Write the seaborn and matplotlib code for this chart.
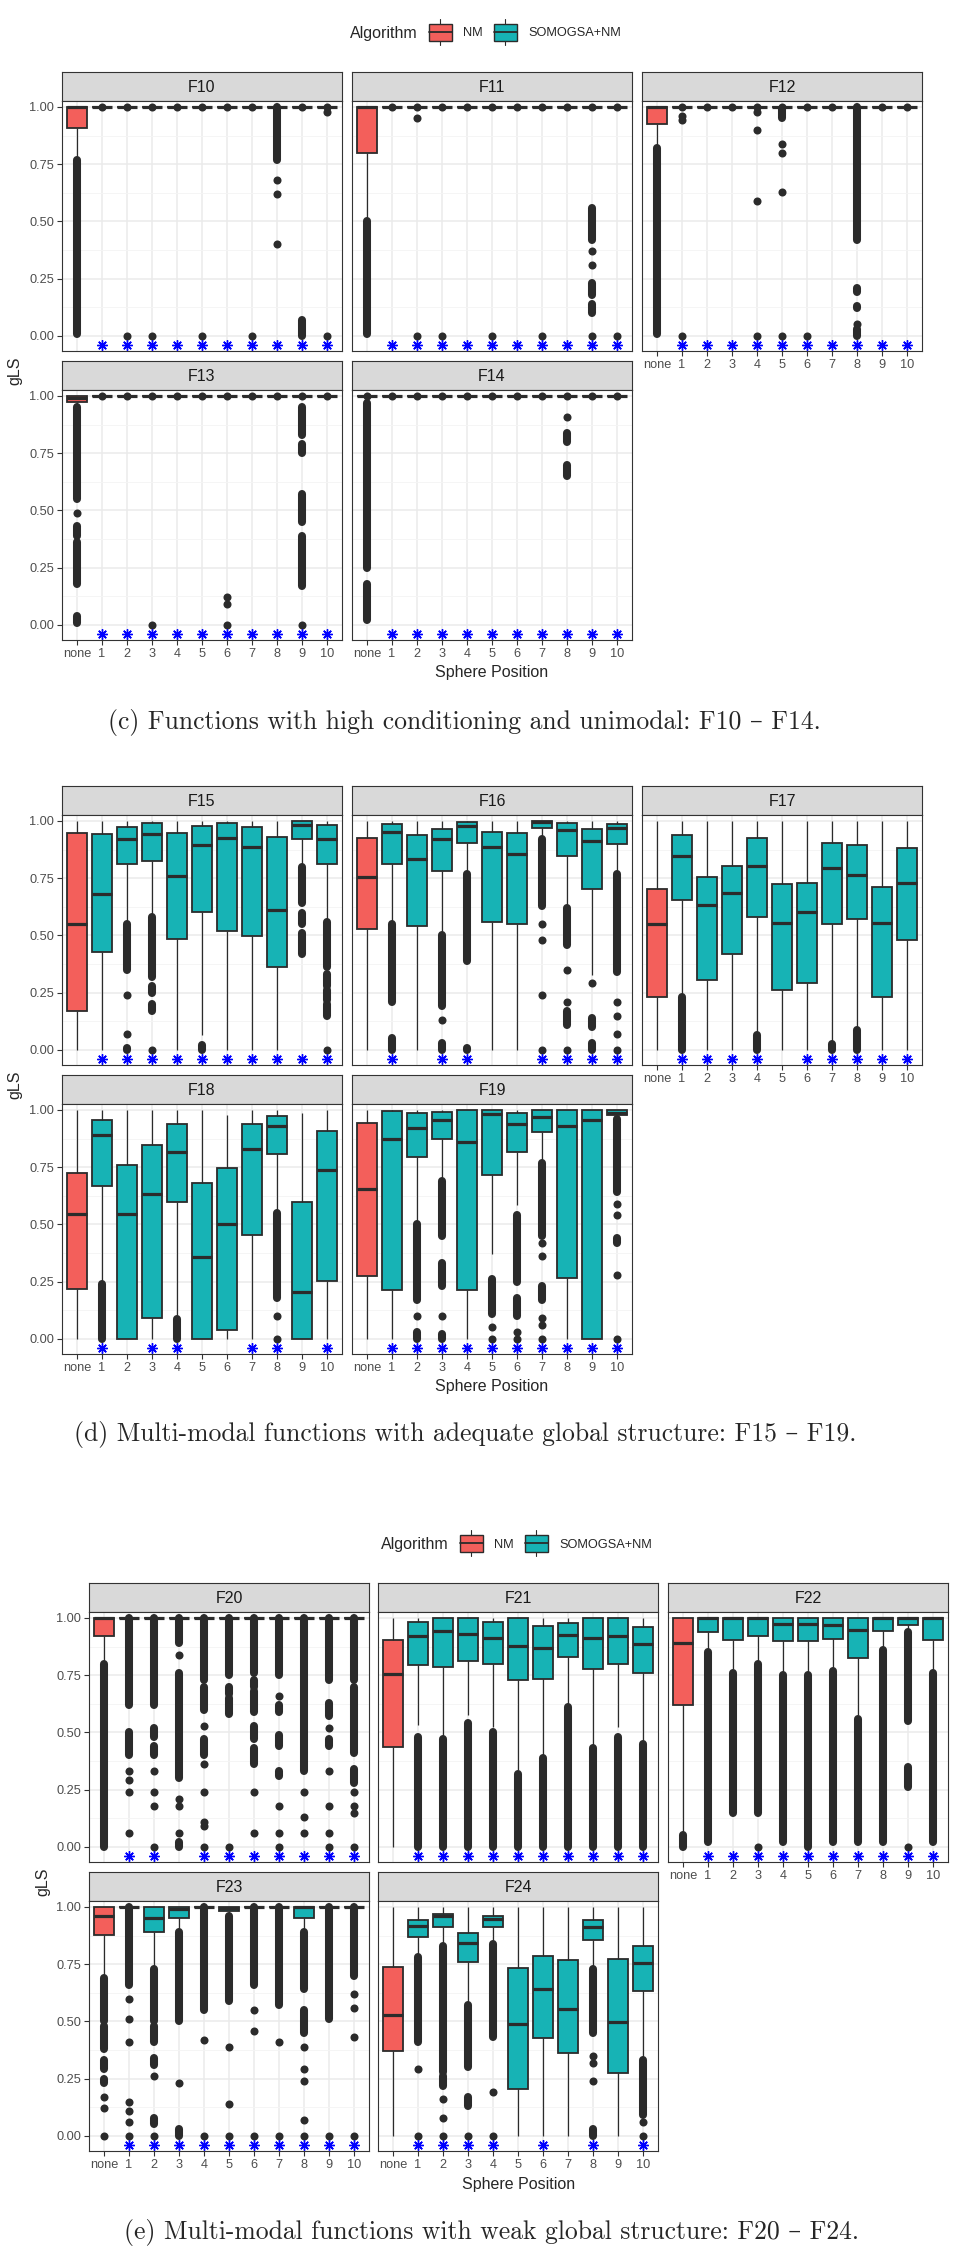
import matplotlib
matplotlib.use("Agg")
import matplotlib.pyplot as plt
from matplotlib.patches import Rectangle
import numpy as np
import pandas as pd
import seaborn as sns

# ---------------------------------------------------------------- data
POSITIONS = ["none", "1", "2", "3", "4", "5", "6", "7", "8", "9", "10"]
ALGORITHMS = ["NM", "SOMOGSA+NM"]
ALL = ["1", "2", "3", "4", "5", "6", "7", "8", "9", "10"]
FLAT = (1.0, 1.0, 1.0, 1.0, 1.0)

# box stats per position (whisker low, q1, median, q3, whisker high)
# outliers: single value = one dot, (lo, hi) = stacked run of dots
F10_stats = [(0.78, 0.908, 1.0, 1.0, 1.0)] + [FLAT] * 10
F10_out = {"none": [(0.01, 0.77)], "1": [1.0], "2": [1.0, 0.0], "3": [1.0, 0.0],
           "4": [1.0], "5": [1.0, 0.0], "6": [1.0], "7": [1.0, 0.0],
           "8": [(0.77, 1.0), 0.68, 0.62, 0.40], "9": [1.0, (0.0, 0.07)],
           "10": [1.0, 0.98, 0.0]}
F10_stars = ALL

F11_stats = [(0.51, 0.80, 1.0, 1.0, 1.0)] + [FLAT] * 10
F11_out = {"none": [(0.01, 0.50)], "1": [1.0], "2": [1.0, 0.95, 0.0], "3": [1.0, 0.0],
           "4": [1.0], "5": [1.0, 0.0], "6": [1.0], "7": [1.0, 0.0], "8": [1.0],
           "9": [1.0, (0.42, 0.56), 0.37, 0.31, (0.18, 0.23), (0.10, 0.14), 0.0],
           "10": [1.0, 0.0]}
F11_stars = ALL

F12_stats = [(0.83, 0.924, 1.0, 1.0, 1.0)] + [FLAT] * 10
F12_out = {"none": [(0.01, 0.82)], "1": [1.0, 0.96, 0.945, 0.0], "2": [1.0], "3": [1.0],
           "4": [1.0, 0.98, 0.90, 0.59, 0.0], "5": [1.0, (0.95, 0.99), 0.84, 0.80, 0.63, 0.0],
           "6": [1.0, 0.0], "7": [1.0],
           "8": [(0.42, 1.0), (0.19, 0.21), (0.12, 0.13), 0.05, (0.0, 0.03)],
           "9": [1.0], "10": [1.0]}
F12_stars = ALL

F13_stats = [(0.94, 0.975, 0.99, 1.0, 1.0)] + [FLAT] * 10
F13_out = {"none": [(0.55, 0.95), 0.49, (0.39, 0.43), (0.18, 0.36), (0.01, 0.04)],
           "1": [1.0], "2": [1.0], "3": [1.0, 0.0], "4": [1.0], "5": [1.0],
           "6": [1.0, 0.12, 0.09, 0.0], "7": [1.0], "8": [1.0],
           "9": [1.0, (0.83, 0.95), (0.75, 0.79), (0.45, 0.57), (0.17, 0.39), 0.0],
           "10": [1.0]}
F13_stars = ALL

F14_stats = [FLAT] * 11
F14_out = {"none": [1.0, (0.25, 0.97), (0.02, 0.18)], "1": [1.0], "2": [1.0], "3": [1.0],
           "4": [1.0], "5": [1.0], "6": [1.0], "7": [1.0],
           "8": [1.0, 0.91, (0.80, 0.84), (0.65, 0.70)], "9": [1.0], "10": [1.0]}
F14_stars = ALL

F15_stats = [(0.0, 0.172, 0.55, 0.946, 1.0), (0.0, 0.428, 0.681, 0.942, 1.0),
             (0.553, 0.811, 0.921, 0.975, 1.0), (0.59, 0.827, 0.942, 0.99, 1.0),
             (0.0, 0.483, 0.76, 0.946, 1.0), (0.065, 0.604, 0.894, 0.978, 1.0),
             (0.0, 0.52, 0.927, 0.993, 1.0), (0.0, 0.499, 0.885, 0.975, 1.0),
             (0.0, 0.36, 0.611, 0.932, 1.0), (0.812, 0.92, 0.983, 1.0, 1.0),
             (0.568, 0.812, 0.921, 0.983, 1.0)]
F15_out = {"2": [(0.35, 0.55), 0.24, 0.07, (0.0, 0.01)],
           "3": [(0.32, 0.58), (0.25, 0.28), (0.17, 0.20), 0.0],
           "5": [(0.0, 0.02)],
           "9": [(0.64, 0.80), (0.55, 0.60), (0.42, 0.51)],
           "10": [(0.36, 0.56), (0.28, 0.33), (0.22, 0.26), (0.15, 0.20), 0.0]}
F15_stars = ALL

F16_stats = [(0.0, 0.527, 0.757, 0.927, 1.0), (0.553, 0.812, 0.951, 0.987, 1.0),
             (0.0, 0.539, 0.834, 0.939, 1.0), (0.51, 0.782, 0.921, 0.964, 1.0),
             (0.771, 0.903, 0.978, 0.997, 1.0), (0.0, 0.56, 0.888, 0.953, 1.0),
             (0.0, 0.55, 0.854, 0.946, 1.0), (0.925, 0.968, 0.997, 1.0, 1.0),
             (0.633, 0.849, 0.961, 0.993, 1.0), (0.328, 0.702, 0.911, 0.965, 1.0),
             (0.774, 0.898, 0.968, 0.987, 1.0)]
F16_out = {"1": [(0.21, 0.55), (0.0, 0.05)],
           "3": [(0.19, 0.50), 0.13, (0.0, 0.03)],
           "4": [(0.39, 0.77), (0.0, 0.01)],
           "7": [(0.63, 0.92), 0.55, 0.48, 0.24, 0.0],
           "8": [(0.46, 0.62), 0.35, 0.21, (0.11, 0.17), 0.0],
           "9": [0.29, (0.10, 0.14), (0.0, 0.03)],
           "10": [(0.34, 0.77), 0.21, 0.15, 0.07, 0.0]}
F16_stars = ["1", "3", "4", "7", "8", "9", "10"]

F17_stats = [(0.0, 0.233, 0.55, 0.702, 1.0), (0.24, 0.655, 0.849, 0.939, 1.0),
             (0.0, 0.306, 0.633, 0.757, 1.0), (0.0, 0.419, 0.684, 0.805, 1.0),
             (0.073, 0.582, 0.803, 0.924, 1.0), (0.0, 0.262, 0.556, 0.724, 1.0),
             (0.0, 0.291, 0.601, 0.731, 1.0), (0.03, 0.552, 0.795, 0.902, 1.0),
             (0.09, 0.571, 0.764, 0.895, 1.0), (0.0, 0.233, 0.553, 0.713, 1.0),
             (0.0, 0.48, 0.728, 0.884, 1.0)]
F17_out = {"1": [(0.0, 0.23)], "4": [(0.0, 0.065)], "7": [(0.0, 0.025)], "8": [(0.0, 0.085)]}
F17_stars = ["1", "2", "3", "4", "6", "7", "8", "9", "10"]

F18_stats = [(0.0, 0.219, 0.546, 0.723, 1.0), (0.244, 0.67, 0.891, 0.955, 1.0),
             (0.0, 0.0, 0.546, 0.759, 1.0), (0.0, 0.091, 0.634, 0.845, 1.0),
             (0.09, 0.599, 0.818, 0.937, 1.0), (0.0, 0.0, 0.358, 0.679, 1.0),
             (0.0, 0.039, 0.502, 0.745, 0.978), (0.0, 0.453, 0.831, 0.937, 1.0),
             (0.558, 0.809, 0.93, 0.974, 1.0), (0.0, 0.0, 0.204, 0.597, 0.988),
             (0.0, 0.251, 0.736, 0.908, 1.0)]
F18_out = {"1": [(0.0, 0.24)], "4": [(0.0, 0.085)], "8": [(0.18, 0.55), 0.10, 0.0]}
F18_stars = ["1", "3", "4", "7", "8", "10"]

F19_stats = [(0.0, 0.273, 0.653, 0.945, 1.0), (0.0, 0.215, 0.874, 0.996, 1.0),
             (0.507, 0.794, 0.923, 0.988, 1.0), (0.696, 0.872, 0.955, 0.993, 1.0),
             (0.0, 0.212, 0.86, 1.0, 1.0), (0.371, 0.714, 0.984, 1.0, 1.0),
             (0.587, 0.818, 0.937, 0.988, 1.0), (0.769, 0.904, 0.971, 1.0, 1.0),
             (0.0, 0.266, 0.93, 1.0, 1.0), (0.0, 0.0, 0.955, 1.0, 1.0),
             (0.96, 0.978, 0.988, 1.0, 1.0)]
F19_out = {"2": [(0.17, 0.50), 0.10, (0.0, 0.03)],
           "3": [(0.45, 0.69), (0.23, 0.33), 0.10, (0.0, 0.02)],
           "5": [(0.11, 0.26), 0.05, 0.0],
           "6": [(0.25, 0.54), (0.10, 0.18), 0.03, 0.0],
           "7": [(0.45, 0.77), 0.42, 0.36, (0.17, 0.23), 0.09, 0.06, 0.0],
           "10": [(0.64, 0.96), 0.59, 0.54, (0.42, 0.44), 0.28, 0.0]}
F19_stars = ALL

F20_stats = [(0.807, 0.919, 1.0, 1.0, 1.0)] + [FLAT] * 10
F20_out = {"none": [(0.0, 0.80)],
           "1": [(0.62, 1.0), (0.40, 0.50), 0.33, 0.29, 0.24, 0.06],
           "2": [(0.62, 1.0), (0.48, 0.52), (0.40, 0.44), 0.33, 0.24, 0.18, 0.0],
           "3": [(0.89, 1.0), 0.84, (0.30, 0.76), 0.21, 0.18, 0.06, (0.0, 0.02)],
           "4": [(0.73, 1.0), (0.60, 0.70), 0.53, (0.40, 0.47), 0.36, 0.24, 0.11, 0.09, 0.0],
           "5": [(0.75, 1.0), (0.67, 0.70), (0.58, 0.65), 0.0],
           "6": [(0.76, 1.0), (0.70, 0.73), (0.59, 0.68), (0.47, 0.53), (0.36, 0.43), 0.24, 0.06],
           "7": [(0.75, 1.0), 0.66, (0.59, 0.62), (0.44, 0.49), (0.31, 0.33), 0.18, 0.06, 0.0],
           "8": [(0.33, 1.0), 0.24, 0.13, 0.06],
           "9": [(0.73, 1.0), (0.57, 0.63), 0.52, (0.44, 0.47), 0.33, 0.18, 0.06, 0.0],
           "10": [(0.73, 1.0), (0.41, 0.70), (0.28, 0.34), 0.24, 0.18, 0.15, 0.0]}
F20_stars = ["1", "2", "4", "5", "6", "7", "8", "9", "10"]

F21_stats = [(0.0, 0.436, 0.756, 0.904, 1.0), (0.531, 0.795, 0.919, 0.984, 1.0),
             (0.48, 0.785, 0.942, 1.0, 1.0), (0.574, 0.814, 0.93, 1.0, 1.0),
             (0.525, 0.797, 0.911, 0.981, 1.0), (0.334, 0.73, 0.879, 1.0, 1.0),
             (0.403, 0.734, 0.868, 0.964, 1.0), (0.625, 0.831, 0.926, 0.977, 1.0),
             (0.44, 0.775, 0.911, 1.0, 1.0), (0.523, 0.797, 0.919, 1.0, 1.0),
             (0.46, 0.759, 0.886, 0.959, 1.0)]
F21_out = {"1": [(0.0, 0.48)], "2": [(0.0, 0.47)], "3": [(0.0, 0.54)], "4": [(0.0, 0.50)],
           "5": [(0.0, 0.32)], "6": [(0.0, 0.39)], "7": [(0.0, 0.61)], "8": [(0.0, 0.43)],
           "9": [(0.0, 0.48)], "10": [(0.0, 0.45)]}
F21_stars = ALL

F22_stats = [(0.065, 0.621, 0.891, 1.0, 1.0), (0.865, 0.94, 1.0, 1.0, 1.0),
             (0.778, 0.904, 1.0, 1.0, 1.0), (0.81, 0.919, 1.0, 1.0, 1.0),
             (0.763, 0.901, 0.974, 1.0, 1.0), (0.763, 0.901, 0.974, 1.0, 1.0),
             (0.78, 0.908, 0.969, 1.0, 1.0), (0.574, 0.826, 0.948, 1.0, 1.0),
             (0.872, 0.943, 1.0, 1.0, 1.0), (0.945, 0.971, 1.0, 1.0, 1.0),
             (0.77, 0.904, 1.0, 1.0, 1.0)]
F22_out = {"none": [(0.0, 0.05)], "1": [(0.02, 0.85)], "2": [(0.15, 0.76)],
           "3": [(0.15, 0.80), 0.0], "4": [(0.02, 0.75)], "5": [(0.0, 0.75)],
           "6": [(0.02, 0.77)], "7": [(0.02, 0.56)], "8": [(0.02, 0.86)],
           "9": [(0.55, 0.94), (0.26, 0.35), 0.0], "10": [(0.02, 0.76)]}
F22_stars = ALL

F23_stats = [(0.695, 0.876, 0.959, 1.0, 1.0), FLAT,
             (0.739, 0.89, 0.952, 1.0, 1.0), (0.893, 0.952, 0.99, 1.0, 1.0),
             FLAT, (0.96, 0.983, 0.995, 1.0, 1.0), FLAT, FLAT,
             (0.893, 0.952, 1.0, 1.0, 1.0), FLAT, FLAT]
F23_out = {"none": [(0.50, 0.69), (0.38, 0.48), (0.29, 0.33), (0.23, 0.25), 0.17, 0.12, 0.0],
           "1": [(0.66, 1.0), 0.60, 0.51, 0.41, 0.15, 0.11, 0.06, 0.0],
           "2": [(0.50, 0.73), (0.41, 0.48), (0.31, 0.34), 0.26, (0.05, 0.08), 0.0],
           "3": [(0.50, 0.89), 0.23, (0.0, 0.03)],
           "4": [(0.55, 1.0), 0.42, 0.0],
           "5": [(0.59, 0.96), 0.39, 0.14, 0.0],
           "6": [(0.66, 1.0), 0.55, 0.46, 0.0],
           "7": [(0.57, 1.0), 0.41, 0.0],
           "8": [(0.64, 0.89), (0.45, 0.55), 0.39, 0.29, 0.24, 0.07, 0.0],
           "9": [(0.51, 1.0), 0.0],
           "10": [(0.70, 1.0), 0.62, 0.56, 0.43, 0.0]}
F23_stars = ALL

F24_stats = [(0.0, 0.369, 0.53, 0.739, 1.0), (0.783, 0.868, 0.918, 0.941, 1.0),
             (0.835, 0.912, 0.962, 0.971, 1.0), (0.586, 0.761, 0.842, 0.886, 1.0),
             (0.842, 0.911, 0.947, 0.962, 1.0), (0.0, 0.205, 0.49, 0.735, 1.0),
             (0.0, 0.429, 0.641, 0.786, 1.0), (0.0, 0.363, 0.556, 0.769, 1.0),
             (0.739, 0.854, 0.912, 0.941, 1.0), (0.0, 0.274, 0.498, 0.772, 1.0),
             (0.337, 0.634, 0.757, 0.83, 1.0)]
F24_out = {"1": [(0.41, 0.78), 0.29, 0.0],
           "2": [(0.28, 0.83), (0.22, 0.26), 0.16, 0.08, 0.0],
           "3": [(0.30, 0.57), (0.13, 0.17), 0.0],
           "4": [(0.43, 0.84), 0.19, 0.0],
           "8": [(0.45, 0.73), 0.35, 0.32, 0.24, (0.0, 0.03)],
           "10": [(0.09, 0.33), 0.06, 0.0]}
F24_stars = ["1", "2", "3", "4", "6", "8", "10"]

PANELS = {
    "F10": (F10_stats, F10_out, F10_stars), "F11": (F11_stats, F11_out, F11_stars),
    "F12": (F12_stats, F12_out, F12_stars), "F13": (F13_stats, F13_out, F13_stars),
    "F14": (F14_stats, F14_out, F14_stars), "F15": (F15_stats, F15_out, F15_stars),
    "F16": (F16_stats, F16_out, F16_stars), "F17": (F17_stats, F17_out, F17_stars),
    "F18": (F18_stats, F18_out, F18_stars), "F19": (F19_stats, F19_out, F19_stars),
    "F20": (F20_stats, F20_out, F20_stars), "F21": (F21_stats, F21_out, F21_stars),
    "F22": (F22_stats, F22_out, F22_stars), "F23": (F23_stats, F23_out, F23_stars),
    "F24": (F24_stats, F24_out, F24_stars),
}

# ---------------------------------------------------------------- style
PALETTE = {"NM": "#F35F5B", "SOMOGSA+NM": "#17B3B5"}
INK = "#2B2B2B"
DOT_LW = 5.8               # points (dot diameter)
STAR_Y = -0.04
W, H = 956, 2249

sns.set_style("white")
plt.rcParams["font.family"] = ["Liberation Sans", "DejaVu Sans"]

fig = plt.figure(figsize=(W / 100, H / 100), dpi=100)


def px_rect(x0, y0, w, h):
    return [x0 / W, 1 - (y0 + h) / H, w / W, h / H]


def draw_panel(ax, stats, outliers, stars, show_x, show_y):
    rows = []
    for pos, five in zip(POSITIONS, stats):
        alg = ALGORITHMS[0] if pos == "none" else ALGORITHMS[1]
        rows += [{"pos": pos, "Algorithm": alg, "gLS": v} for v in five]
    df = pd.DataFrame(rows)
    sns.boxplot(data=df, x="pos", y="gLS", hue="Algorithm", order=POSITIONS,
                hue_order=ALGORITHMS, palette=PALETTE, saturation=1, dodge=False,
                width=0.78, whis=np.inf, showfliers=False, showcaps=False,
                linecolor=INK, linewidth=1.3, medianprops={"linewidth": 2.3},
                whiskerprops={"linewidth": 0.9}, legend=False, ax=ax)
    for pos, items in outliers.items():
        x = POSITIONS.index(pos)
        for it in items:
            if isinstance(it, tuple):
                ax.vlines(x, it[0], it[1], colors=INK, linewidth=DOT_LW,
                          capstyle="round", zorder=4)
            else:
                ax.scatter([x], [it], s=DOT_LW ** 2, color=INK, linewidths=0, zorder=4)
    xs = [POSITIONS.index(p) for p in stars]
    ax.plot(xs, [STAR_Y] * len(xs), ls="none", marker=(8, 2, 0), ms=7.5, mew=1.0,
            color="#0000FF", zorder=5)

    ax.set_xlim(-0.6, 10.6)
    ax.set_ylim(-0.066, 1.026)
    ax.set_yticks([0, 0.25, 0.5, 0.75, 1.0])
    ax.set_yticklabels(["0.00", "0.25", "0.50", "0.75", "1.00"])
    ax.set_yticks([0.125, 0.375, 0.625, 0.875], minor=True)
    ax.grid(True, which="major", color="#EBEBEB", lw=1.1)
    ax.grid(True, which="minor", axis="y", color="#F4F4F4", lw=0.6)
    ax.set_axisbelow(True)
    ax.set_xlabel("")
    ax.set_ylabel("")
    ax.tick_params(which="minor", length=0)
    ax.tick_params(axis="both", colors="#333333", labelcolor="#4D4D4D",
                   labelsize=9.2, length=3.5, width=0.8, pad=2)
    ax.tick_params(axis="x", bottom=show_x, labelbottom=show_x)
    ax.tick_params(axis="y", left=show_y, labelleft=show_y)
    for sp in ax.spines.values():
        sp.set_visible(True)
        sp.set_color("#333333")
        sp.set_linewidth(0.8)


def draw_strip(rect, label):
    st = fig.add_axes(rect)
    st.set_facecolor("#D9D9D9")
    st.set_xticks([])
    st.set_yticks([])
    for sp in st.spines.values():
        sp.set_color("#333333")
        sp.set_linewidth(0.8)
    st.text(0.5, 0.47, label, ha="center", va="center", fontsize=11.5,
            color="#1A1A1A", transform=st.transAxes)


SECTIONS = [
    {"funcs": ["F10", "F11", "F12", "F13", "F14"], "x0": [62, 352, 642], "top": 72,
     "legend": (350, 32), "gls_x": 15, "cap_xy": (464, 723),
     "caption": "(c) Functions with high conditioning and unimodal: F10 – F14."},
    {"funcs": ["F15", "F16", "F17", "F18", "F19"], "x0": [62, 352, 642], "top": 786,
     "legend": None, "gls_x": 15, "cap_xy": (465, 1435),
     "caption": "(d) Multi-modal functions with adequate global structure: F15 – F19."},
    {"funcs": ["F20", "F21", "F22", "F23", "F24"], "x0": [89, 378, 668], "top": 1583,
     "legend": (381, 1543), "gls_x": 43, "cap_xy": (492, 2233),
     "caption": "(e) Multi-modal functions with weak global structure: F20 – F24."},
]
STRIP_H, PANEL_H, GAP, PANEL_W = 29, 250, 10, 280

over = fig.add_axes([0, 0, 1, 1])
over.set_xlim(0, W)
over.set_ylim(H, 0)
over.axis("off")

for sec in SECTIONS:
    top = sec["top"]
    for i, name in enumerate(sec["funcs"]):
        row, col = divmod(i, 3)
        x0 = sec["x0"][col]
        s_top = top + row * (STRIP_H + PANEL_H + GAP)
        draw_strip(px_rect(x0, s_top, PANEL_W, STRIP_H), name)
        ax = fig.add_axes(px_rect(x0, s_top + STRIP_H, PANEL_W, PANEL_H))
        stats, outs, stars = PANELS[name]
        draw_panel(ax, stats, outs, stars, show_x=(row == 1 or col == 2), show_y=(col == 0))

    bottom = top + 2 * (STRIP_H + PANEL_H) + GAP
    xc = (sec["x0"][0] + sec["x0"][2] + PANEL_W) / 2
    over.text(xc, bottom + 33, "Sphere Position", ha="center", va="center", fontsize=11.5)
    over.text(sec["gls_x"], (top + STRIP_H + bottom) / 2, "gLS", ha="center", va="center",
              rotation=90, fontsize=11.5)
    over.text(sec["cap_xy"][0], sec["cap_xy"][1], sec["caption"], ha="center",
              va="center", fontsize=18.5, family=["cmr10", "DejaVu Serif"])

    if sec["legend"] is not None:
        lx, ly = sec["legend"]
        over.text(lx, ly, "Algorithm", ha="left", va="center_baseline", fontsize=11.5)
        for k, alg in enumerate(ALGORITHMS):
            kx = lx + 79 + k * 65
            over.add_patch(Rectangle((kx, ly - 8.5), 23, 17, facecolor=PALETTE[alg],
                                     edgecolor=INK, lw=1.0))
            over.plot([kx, kx + 23], [ly, ly], color=INK, lw=1.3)
            over.plot([kx + 11.5, kx + 11.5], [ly - 13, ly - 8.5], color=INK, lw=0.8)
            over.plot([kx + 11.5, kx + 11.5], [ly + 8.5, ly + 13], color=INK, lw=0.8)
            over.text(kx + 34, ly, alg, ha="left", va="center_baseline", fontsize=9.2)

fig.savefig("out.png", dpi=100, facecolor="white")
